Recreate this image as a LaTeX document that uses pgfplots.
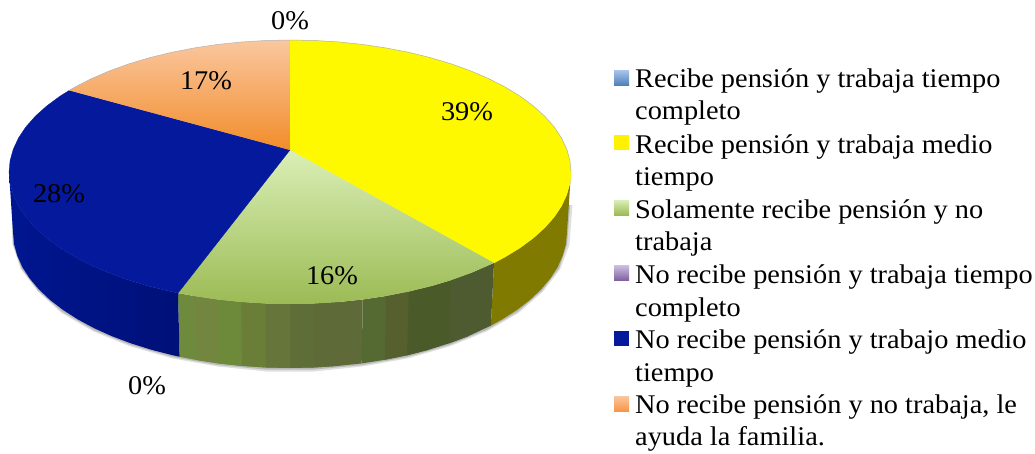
\documentclass[border=0pt]{standalone}
\usepackage{pgfplots}
\pgfplotsset{compat=1.18}
\usepackage{fontspec}
\setmainfont[FakeStretch=1.05]{Liberation Serif}
\definecolor{yel}{HTML}{FFF900}
\definecolor{blu}{HTML}{04199C}
\definecolor{yside}{HTML}{807B00}
\definecolor{ga}{HTML}{6E8A3C}
\definecolor{gb}{HTML}{728640}
\definecolor{gc}{HTML}{6D8A3A}
\definecolor{gd}{HTML}{6A7E37}
\definecolor{ge}{HTML}{66763A}
\definecolor{gf}{HTML}{5F6D38}
\definecolor{gg}{HTML}{5E6A37}
\definecolor{gh}{HTML}{556A33}
\definecolor{gi}{HTML}{56602F}
\definecolor{gj}{HTML}{4B5A29}
\definecolor{gk}{HTML}{4E5A30}
\definecolor{bl}{HTML}{001690}
\definecolor{br}{HTML}{001078}
\definecolor{oratop}{HTML}{FAC79F}
\definecolor{orabot}{HTML}{F28C2A}
\definecolor{grntop}{HTML}{DAEFB6}
\definecolor{grnbot}{HTML}{9CBB55}
\newcommand{\strip}[2]{\addplot[fill=#1,draw=none] coordinates {#2} --cycle;}
\newcommand{\lab}[3]{\node[anchor=center,inner sep=0pt,font=\fontsize{27}{30}\selectfont] at (axis cs:#1,#2) {#3};}
\newcommand{\leg}[2]{\node[anchor=base west,inner sep=0pt,font=\fontsize{27}{30}\selectfont] at (axis cs:635,#1) {#2};}
\begin{document}
\begin{tikzpicture}
\begin{axis}[
  scale only axis, width=1035pt, height=453pt,
  xmin=0, xmax=1035, ymin=0, ymax=453, y dir=reverse,
  hide axis, clip=false]
\path (axis cs:0,0) (axis cs:1035,453);
% soft shadow under the disc
\addplot[gray!25,line width=5pt,line join=round] coordinates {(14,205)(15,244)(23,268)(40,290)(63,311)(94,329)(131,344)(173,356)(218,364)(266,369)(314,369)(362,364)(407,356)(449,344)(486,329)(517,311)(541,290)(558,268)(567,244)(570,205)};
\addplot[gray!55,line width=2.2pt,line join=round] coordinates {(13,205)(14,244)(22.4,268)(39,290)(63,311)(94,329)(131,344)(173,356)(218,364)(266,368.5)(314,368.5)(362,364)(407,356)(449,344)(486,329)(517,311)(541,290)(558,268)(566,244)(569,205)};
% yellow wall
\strip{yside}{(571,172)(569.9,183.5)(566.7,194.9)(561.4,206.2)(554.1,217.1)(544.7,227.8)(533.3,238)(520.2,247.7)(505.3,256.8)(494,262.9)(490.9,325.6)(502.2,319.4)(516.9,310)(529.9,300)(541,289.5)(550.3,278.5)(557.6,267.2)(562.8,255.6)(566,243.9)(567,232)}
% green wall, overlapping strips from the left
\strip{ga}{(178,293.1)(193.9,296)(217.3,299.5)(218.3,363.4)(195.3,359.8)(179.6,356.7)}
\strip{gb}{(193.9,296)(217.3,299.5)(241.2,302)(241.9,365.9)(218.3,363.4)(195.3,359.8)}
\strip{gc}{(217.3,299.5)(241.2,302)(265.5,303.5)(265.9,367.5)(241.9,365.9)(218.3,363.4)}
\strip{gd}{(241.2,302)(265.5,303.5)(290,304)(290,368)(265.9,367.5)(241.9,365.9)}
\strip{ge}{(265.5,303.5)(290,304)(314.5,303.5)(314.1,367.5)(290,368)(265.9,367.5)}
\strip{gf}{(290,304)(314.5,303.5)(338.8,302)(338.1,365.9)(314.1,367.5)(290,368)}
\strip{gg}{(314.5,303.5)(338.8,302)(362.7,299.5)(361.7,363.4)(338.1,365.9)(314.1,367.5)}
\strip{gh}{(362.7,299.5)(386.1,296)(408.8,291.6)(407.1,355.3)(384.7,359.8)(361.7,363.4)}
\strip{gi}{(386.1,296)(408.8,291.6)(430.5,286.3)(428.5,349.8)(407.1,355.3)(384.7,359.8)}
\strip{gj}{(408.8,291.6)(430.5,286.3)(451.2,280.1)(470.6,273.1)(468.1,336.2)(448.9,343.4)(428.5,349.8)(407.1,355.3)}
\strip{gk}{(451.2,280.1)(470.6,273.1)(494,262.9)(490.9,325.6)(468.1,336.2)(448.9,343.4)}
% blue wall
\addplot[draw=none,left color=bl,right color=br] coordinates {(178,293.1)(171.2,291.6)(149.5,286.3)(128.8,280.1)(109.4,273.1)(91.3,265.3)(74.7,256.8)(59.8,247.7)(46.7,238)(35.3,227.8)(25.9,217.1)(18.6,206.2)(13.3,194.9)(10.1,183.5)(9,172)(13,232)(14,243.9)(17.2,255.6)(22.4,267.2)(29.7,278.5)(39,289.5)(50.1,300)(63.1,310)(77.8,319.4)(94.1,328.2)(111.9,336.2)(131.1,343.4)(151.5,349.8)(172.9,355.3)(179.6,356.7)} --cycle;
% top faces
\addplot[fill=yel,draw=yel,line width=0.3pt] coordinates {(290,150)(290,40)(314.5,40.5)(338.8,42)(362.7,44.5)(386.1,48)(408.8,52.4)(430.5,57.7)(451.2,63.9)(470.6,70.9)(488.7,78.7)(505.3,87.2)(520.2,96.3)(533.3,106)(544.7,116.2)(554.1,126.9)(561.4,137.8)(566.7,149.1)(569.9,160.5)(571,172)(569.9,183.5)(566.7,194.9)(561.4,206.2)(554.1,217.1)(544.7,227.8)(533.3,238)(520.2,247.7)(505.3,256.8)(494,262.9)} --cycle;
\addplot[draw=none,top color=grntop,bottom color=grnbot] coordinates {(290,150)(494,262.9)(470.6,273.1)(451.2,280.1)(430.5,286.3)(408.8,291.6)(386.1,296)(362.7,299.5)(338.8,302)(314.5,303.5)(290,304)(265.5,303.5)(241.2,302)(217.3,299.5)(193.9,296)(178,293.1)} --cycle;
\addplot[fill=blu,draw=blu,line width=0.3pt] coordinates {(290,150)(178,293.1)(171.2,291.6)(149.5,286.3)(128.8,280.1)(109.4,273.1)(91.3,265.3)(74.7,256.8)(59.8,247.7)(46.7,238)(35.3,227.8)(25.9,217.1)(18.6,206.2)(13.3,194.9)(10.1,183.5)(9,172)(10.1,160.5)(13.3,149.1)(18.6,137.8)(25.9,126.9)(35.3,116.2)(46.7,106)(59.8,96.3)(69.2,90.4)} --cycle;
\addplot[draw=none,top color=oratop,bottom color=orabot] coordinates {(290,150)(69.2,90.4)(74.7,87.2)(91.3,78.7)(109.4,70.9)(128.8,63.9)(149.5,57.7)(171.2,52.4)(193.9,48)(217.3,44.5)(241.2,42)(265.5,40.5)(290,40)} --cycle;
% thin rim on the back edge
\addplot[gray!60,line width=0.5pt] coordinates {(69.2,90.4)(74.7,87.2)(91.3,78.7)(109.4,70.9)(128.8,63.9)(149.5,57.7)(171.2,52.4)(193.9,48)(217.3,44.5)(241.2,42)(265.5,40.5)(290,40)(314.5,40.5)(338.8,42)(362.7,44.5)(386.1,48)(408.8,52.4)(430.5,57.7)(451.2,63.9)(470.6,70.9)(488.7,78.7)(505.3,87.2)(520.2,96.3)(533.3,106)(544.7,116.2)(554.1,126.9)(561.4,137.8)(566.7,149.1)(569.9,160.5)(571,172)};
% legend keys
\addplot[draw=none,top color={rgb,255:red,172;green,197;blue,236},bottom color={rgb,255:red,79;green,129;blue,189}] coordinates {(614,70)(629,70)(629,85)(614,85)} --cycle;
\addplot[draw=none,fill=yellow] coordinates {(614,135)(629,135)(629,150)(614,150)} --cycle;
\addplot[draw=none,top color=grntop,bottom color=grnbot] coordinates {(614,200)(629,200)(629,215)(614,215)} --cycle;
\addplot[draw=none,top color={rgb,255:red,207;green,192;blue,226},bottom color={rgb,255:red,128;green,100;blue,162}] coordinates {(614,265)(629,265)(629,280)(614,280)} --cycle;
\addplot[draw=none,fill=blu] coordinates {(614,331)(629,331)(629,346)(614,346)} --cycle;
\addplot[draw=none,top color=oratop,bottom color={rgb,255:red,247;green,150;blue,70}] coordinates {(614,396)(629,396)(629,411)(614,411)} --cycle;
% data labels
\lab{290}{21}{0\%}
\lab{147}{386}{0\%}
\lab{206}{81}{17\%}
\lab{467}{112}{39\%}
\lab{332}{276}{16\%}
\lab{59}{194}{28\%}
% legend text
\leg{87}{Recibe pensión y trabaja tiempo}
\leg{119}{completo}
\leg{153}{Recibe pensión y trabaja medio}
\leg{185}{tiempo}
\leg{218}{Solamente recibe pensión y no}
\leg{250}{trabaja}
\leg{283}{No recibe pensión y trabaja tiempo}
\leg{316}{completo}
\leg{348}{No recibe pensión y trabajo medio}
\leg{381}{tiempo}
\leg{413}{No recibe pensión y no trabaja, le}
\leg{445}{ayuda la familia.}
\end{axis}
\end{tikzpicture}
\end{document}
